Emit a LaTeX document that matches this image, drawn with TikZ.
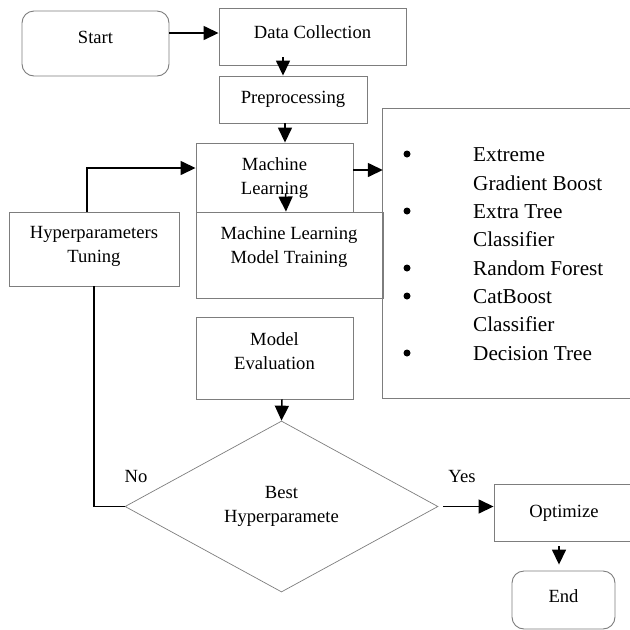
\documentclass[tikz,border=0pt]{standalone}
\usepackage{fontspec}
\setmainfont{Liberation Serif}
\usetikzlibrary{arrows.meta,shapes.geometric}
\definecolor{boxgray}{RGB}{125,125,125}
\begin{document}
\begin{tikzpicture}[x=1pt,y=-1pt,
  box/.style={draw=boxgray, line width=0.9pt, inner sep=0pt, fill=none},
  rbox/.style={box, rounded corners=12pt},
  txt/.style={font=\fontsize{18.6}{23.5}\selectfont, align=center, inner sep=0pt},
  ltxt/.style={font=\fontsize{21.2}{24}\selectfont, inner sep=0pt, anchor=base west},
  dot/.style={circle, fill=black, inner sep=0pt, minimum size=7pt},
  arr/.style={line width=1.5pt, draw=black, -{Triangle[length=15pt,width=14pt]}},
  conn/.style={line width=1.5pt, draw=black}
]
\useasboundingbox (0,0) rectangle (630,630);
\clip (0,0) rectangle (630,630);
% boxes
\node[rbox, minimum width=147pt, minimum height=65pt] (start) at (95.5,43.5) {};
\node[box, minimum width=187pt, minimum height=57pt] (dc) at (312.5,36.5) {};
\node[box, minimum width=148pt, minimum height=47pt] (pre) at (293,99.5) {};
\node[box, minimum width=157pt, minimum height=69pt] (ml) at (274.5,177.5) {};
\node[box, minimum width=187pt, minimum height=86pt] (mlmt) at (289.5,255) {};
\node[box, minimum width=157pt, minimum height=82pt] (me) at (274.5,358) {};
\node[box, minimum width=170pt, minimum height=74pt] (ht) at (94,249) {};
\node[inner sep=0pt, minimum width=257pt, minimum height=289pt] (lst) at (511.5,253.5) {};
\draw[draw=boxgray, line width=0.9pt] (lst.north east) -- (lst.north west) -- (lst.south west) -- (lst.south east);
\node[diamond, draw=boxgray, line width=0.7pt, inner sep=0pt, minimum width=313pt, minimum height=171pt] (dia) at (281.5,506.5) {};
\node[box, minimum width=138pt, minimum height=57pt] (opt) at (563,512.5) {};
\node[rbox, minimum width=103pt, minimum height=58pt] (fin) at (563.5,600) {};
% texts
\node[txt] (tstart) at (95.5,37) {Start};
\node[txt] (tdc) at (312.5,32) {Data Collection};
\node[txt] (tpre) at (293,99) {Preprocessing};
\node[txt] (tml) at (274.5,178) {Machine\\Learning};
\node[txt] (tmlmt) at (289,247) {Machine Learning\\Model Training};
\node[txt] (tme) at (274.5,351) {Model\\Evaluation};
\node[txt] (tht) at (94,246.5) {Hyperparameters\\Tuning};
\node[txt] (tdia) at (281.5,506.5) {Best\\Hyperparamete};
\node[txt] (topt) at (564,513) {Optimize};
\node[txt] (tfin) at (563.5,596) {End};
\node[txt] (tno) at (136,476) {No};
\node[txt] (tyes) at (462,476) {Yes};
% list
\foreach \i/\y/\b/\t in {1/154/1/Extreme, 2/183/0/Gradient Boost, 3/211/1/Extra Tree, 4/239/0/Classifier, 5/268/1/Random Forest, 6/296/1/CatBoost, 7/324/0/Classifier, 8/353/1/Decision Tree}{
  \node[ltxt] (l\i) at (473,\y+7) {\t};
  \ifnum\b=1 \node[dot] (b\i) at (407,\y) {}; \fi
}
% connectors
\draw[arr] ([yshift=10.5pt]start.east) -- ([yshift=3.5pt]dc.west);
\draw[arr] ([xshift=-29.5pt,yshift=8pt]dc.south) -- ([xshift=-10pt]pre.north);
\draw[arr] ([xshift=-8pt]pre.south) -- ([xshift=10.5pt]ml.north);
\draw[arr] ([xshift=11pt,yshift=19pt]ml.south) -- ([xshift=-3.5pt]mlmt.north);
\coordinate (mlr) at ([yshift=7.5pt]ml.east);
\draw[arr] (mlr) -- (mlr -| lst.west);
\draw[arr] ([xshift=7.5pt]me.south) -- (dia.north);
\coordinate (dyes) at ([xshift=5pt]dia.east);
\draw[arr] (dyes) -- (dyes -| opt.west);
\draw[arr] ([xshift=-4pt,yshift=-5pt]opt.south) -- ([xshift=-4.5pt,yshift=6pt]fin.north);
\draw[conn] (dia.west) -- (dia.west -| ht.south) -- (ht.south);
\coordinate (mll) at ([yshift=9.5pt]ml.west);
\draw[arr] ([xshift=-7pt]ht.north) |- (mll);
\end{tikzpicture}
\end{document}
